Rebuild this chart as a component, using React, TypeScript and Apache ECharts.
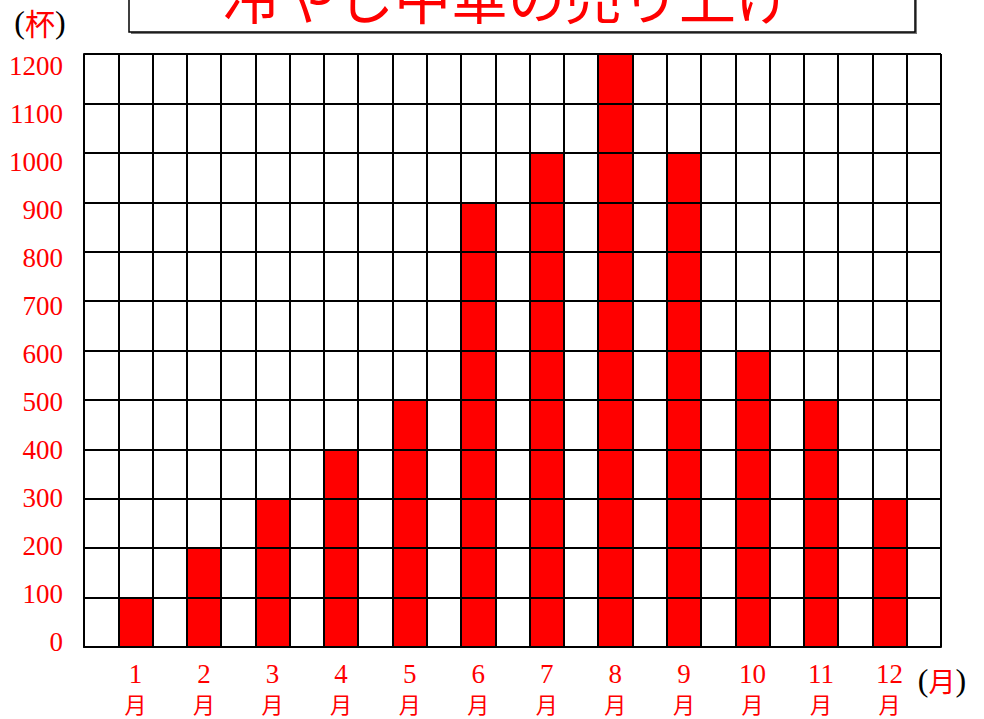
import React, { useEffect, useRef } from "react";
import * as echarts from "echarts";

const months = ["1", "2", "3", "4", "5", "6", "7", "8", "9", "10", "11", "12"];
const monthUnit = "月";
const sales = [100, 200, 300, 400, 500, 900, 1000, 1200, 1000, 600, 500, 300];
const titleText = "冷やし中華の売り上げ";
const yUnit = "杯";
const xUnit = "月";
const yMin = 0;
const yMax = 1200;
const yStep = 100;

const RED = "#ff0000";
const SERIF = "'Liberation Serif', 'DejaVu Serif', serif";
const CJK = "'Noto Sans CJK JP', sans-serif";

export default function App() {
  const ref = useRef<HTMLDivElement>(null);
  useEffect(() => {
    if (!ref.current) return;
    const chart = echarts.init(ref.current, null, { renderer: "svg" });

    // 25 columns: a blank column before each month and after the last
    const cats: string[] = [];
    const vals: (number | null)[] = [];
    months.forEach((m, i) => {
      cats.push("");
      vals.push(null);
      cats.push(m);
      vals.push(sales[i]);
    });
    cats.push("");
    vals.push(null);

    const black = { color: "#000", width: 2 };

    chart.setOption({
      animation: false,
      backgroundColor: "#fff",
      grid: [
        { left: 84, top: 54, width: 857, height: 593, containLabel: false },
        { left: 84, top: 66, width: 857, height: 576, containLabel: false },
      ],
      xAxis: [
        {
          type: "category",
          gridIndex: 0,
          data: cats,
          boundaryGap: true,
          z: 5,
          axisLine: { show: true, lineStyle: black },
          axisTick: { show: false },
          splitLine: { show: true, interval: 0, lineStyle: black },
          axisLabel: {
            interval: 0,
            margin: 12,
            formatter: (v: string) => (v ? `{n|${v}}\n{u|${monthUnit}}` : ""),
            rich: {
              n: { fontFamily: SERIF, fontSize: 27, color: RED, lineHeight: 29, align: "center" },
              u: { fontFamily: CJK, fontSize: 22, color: RED, lineHeight: 29, align: "center" },
            },
          },
        },
        { type: "value", gridIndex: 1, show: false, min: 0, max: 1 },
      ],
      yAxis: [
        {
          type: "value",
          gridIndex: 0,
          min: yMin,
          max: yMax,
          interval: yStep,
          z: 5,
          axisLine: { show: true, lineStyle: black },
          axisTick: { show: false },
          axisLabel: { show: false },
          splitLine: { show: true, lineStyle: black },
        },
        {
          type: "value",
          gridIndex: 1,
          min: yMin,
          max: yMax,
          interval: yStep,
          axisLine: { show: false },
          axisTick: { show: false },
          splitLine: { show: false },
          axisLabel: {
            margin: 21,
            color: RED,
            fontFamily: SERIF,
            fontSize: 27,
            formatter: (v: number) => String(v),
          },
        },
      ],
      series: [
        {
          type: "bar",
          xAxisIndex: 0,
          yAxisIndex: 0,
          data: vals,
          barWidth: "100%",
          itemStyle: { color: RED },
          z: 2,
        },
      ],
      graphic: [
        {
          type: "rect",
          shape: { x: 131, y: -30, width: 786, height: 64 },
          style: { fill: "#777", stroke: null },
          z: 10,
        },
        {
          type: "rect",
          shape: { x: 129, y: -32, width: 786, height: 64 },
          style: { fill: "#fff", stroke: "#000", lineWidth: 1.5 },
          z: 11,
        },
        {
          type: "text",
          x: 508,
          y: -6,
          z: 12,
          style: {
            text: titleText,
            fill: RED,
            fontFamily: CJK,
            fontSize: 57,
            align: "center",
            verticalAlign: "middle",
          },
        },
        {
          type: "text",
          x: 40,
          y: 22,
          z: 12,
          style: {
            text: `{p|(}{r|${yUnit}}{p|)}`,
            align: "center",
            verticalAlign: "middle",
            rich: {
              p: { fontFamily: SERIF, fontSize: 32, fill: "#000" },
              r: { fontFamily: CJK, fontSize: 30, fill: RED },
            },
          },
        },
        {
          type: "text",
          x: 942,
          y: 680,
          z: 12,
          style: {
            text: `{p|(}{r|${xUnit}}{p|)}`,
            align: "center",
            verticalAlign: "middle",
            rich: {
              p: { fontFamily: SERIF, fontSize: 32, fill: "#000" },
              r: { fontFamily: CJK, fontSize: 27, fill: RED },
            },
          },
        },
      ],
    });
    return () => chart.dispose();
  }, []);
  return (
    <div
      ref={ref}
      style={{ position: "absolute", left: 0, top: 0, width: 984, height: 719 }}
    />
  );
}
